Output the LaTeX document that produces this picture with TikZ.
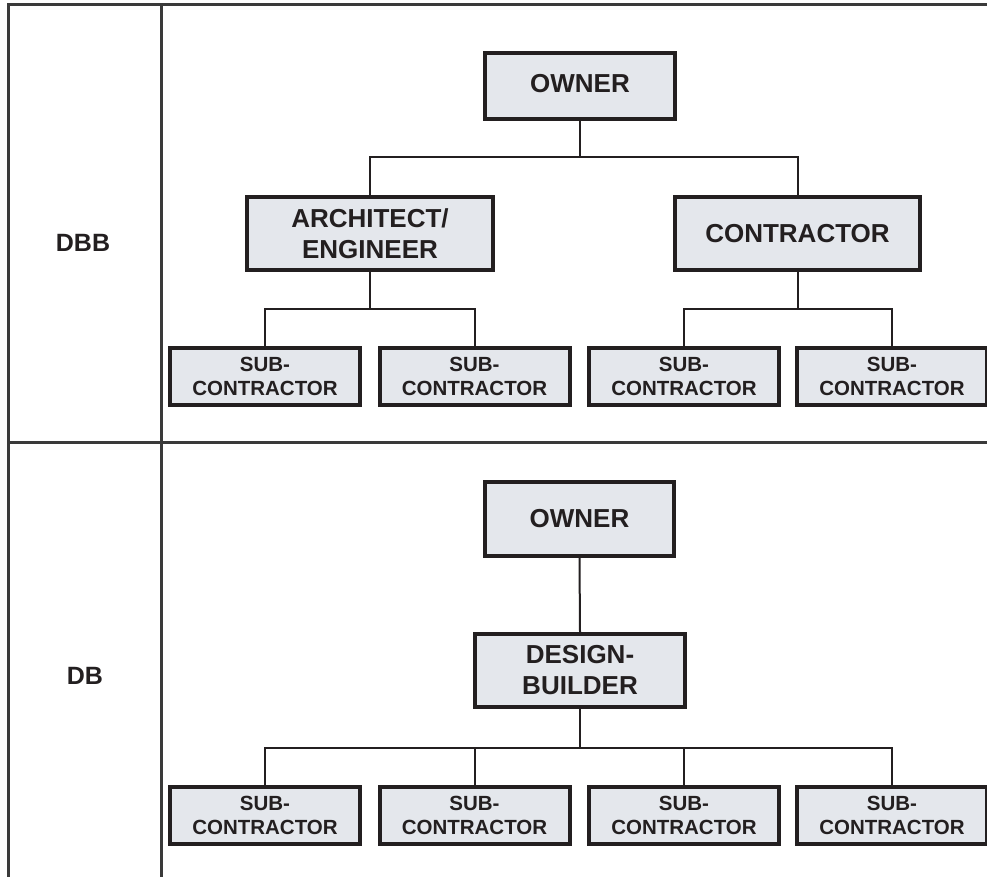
\documentclass[tikz,border=0pt]{standalone}
\usepackage{fontspec}
\setmainfont{Liberation Sans}
\definecolor{boxfill}{HTML}{E4E7EC}
\definecolor{ink}{HTML}{231F20}
\definecolor{rule}{HTML}{3A3A3A}
\tikzset{
  box/.style={draw=ink, line width=4pt, fill=boxfill, text=ink, align=center, inner sep=0pt},
  bigbox/.style={box, font=\fontsize{26}{31}\selectfont\bfseries},
  subbox/.style={box, minimum width=190pt, minimum height=57pt, font=\fontsize{20.5}{24.5}\selectfont\bfseries},
  conn/.style={draw=ink, line width=2pt},
  frame/.style={draw=rule, line width=3pt},
  rowlabel/.style={text=ink, font=\fontsize{25}{30}\selectfont\bfseries, inner sep=0pt}
}
\begin{document}
\begin{tikzpicture}[x=1pt,y=-1pt]
\useasboundingbox (0,0) rectangle (987,877);
% frame
\draw[frame] (8.5,877) -- (8.5,4.5) -- (987,4.5);
\draw[frame] (161,4.5) -- (161,877);
\draw[frame] (8.5,442) -- (987,442);
\node[rowlabel] (dbb) at (83,243) {DBB};
\node[rowlabel] (db) at (85,676) {DB};
% DBB
\node[bigbox, minimum width=190pt, minimum height=66pt] (o1) at (580,86) {\raisebox{5pt}{OWNER}};
\node[bigbox, minimum width=246pt, minimum height=73pt] (ae) at (370,233.5) {ARCHITECT/\\ENGINEER};
\node[bigbox, minimum width=245pt, minimum height=73pt] (c) at (797.5,233.5) {CONTRACTOR};
\node[subbox] (s1) at (265,376.5) {SUB-\\CONTRACTOR};
\node[subbox] (s2) at (474.5,376.5) {SUB-\\CONTRACTOR};
\node[subbox] (s3) at (684,376.5) {SUB-\\CONTRACTOR};
\node[subbox] (s4) at (892,376.5) {SUB-\\CONTRACTOR};
\coordinate (busA) at (0,157);
\coordinate (busB) at (0,308.5);
\draw[conn] (o1.south) -- (o1.south |- busA);
\draw[conn] (ae.north) |- (o1.south |- busA) -| (c.north);
\draw[conn] (ae.south) -- (ae.south |- busB);
\draw[conn] (s1.north) |- (ae.south |- busB) -| (s2.north);
\draw[conn] (c.south) -- (c.south |- busB);
\draw[conn] (s3.north) |- (c.south |- busB) -| (s4.north);
% DB
\node[bigbox, minimum width=189pt, minimum height=74pt] (o2) at (579.5,519) {OWNER};
\node[bigbox, minimum width=210pt, minimum height=73pt] (dbx) at (580,670.5) {DESIGN-\\BUILDER};
\node[subbox] (t1) at (265,815.5) {SUB-\\CONTRACTOR};
\node[subbox] (t2) at (474.5,815.5) {SUB-\\CONTRACTOR};
\node[subbox] (t3) at (684,815.5) {SUB-\\CONTRACTOR};
\node[subbox] (t4) at (892,815.5) {SUB-\\CONTRACTOR};
\coordinate (busC) at (0,748);
\draw[conn] (o2.south) -- (dbx.north);
\draw[conn] (dbx.south) -- (dbx.south |- busC);
\draw[conn] (t1.north) |- (dbx.south |- busC) -| (t4.north);
\draw[conn] (t2.north) -- (t2.north |- busC);
\draw[conn] (t3.north) -- (t3.north |- busC);
\end{tikzpicture}
\end{document}
